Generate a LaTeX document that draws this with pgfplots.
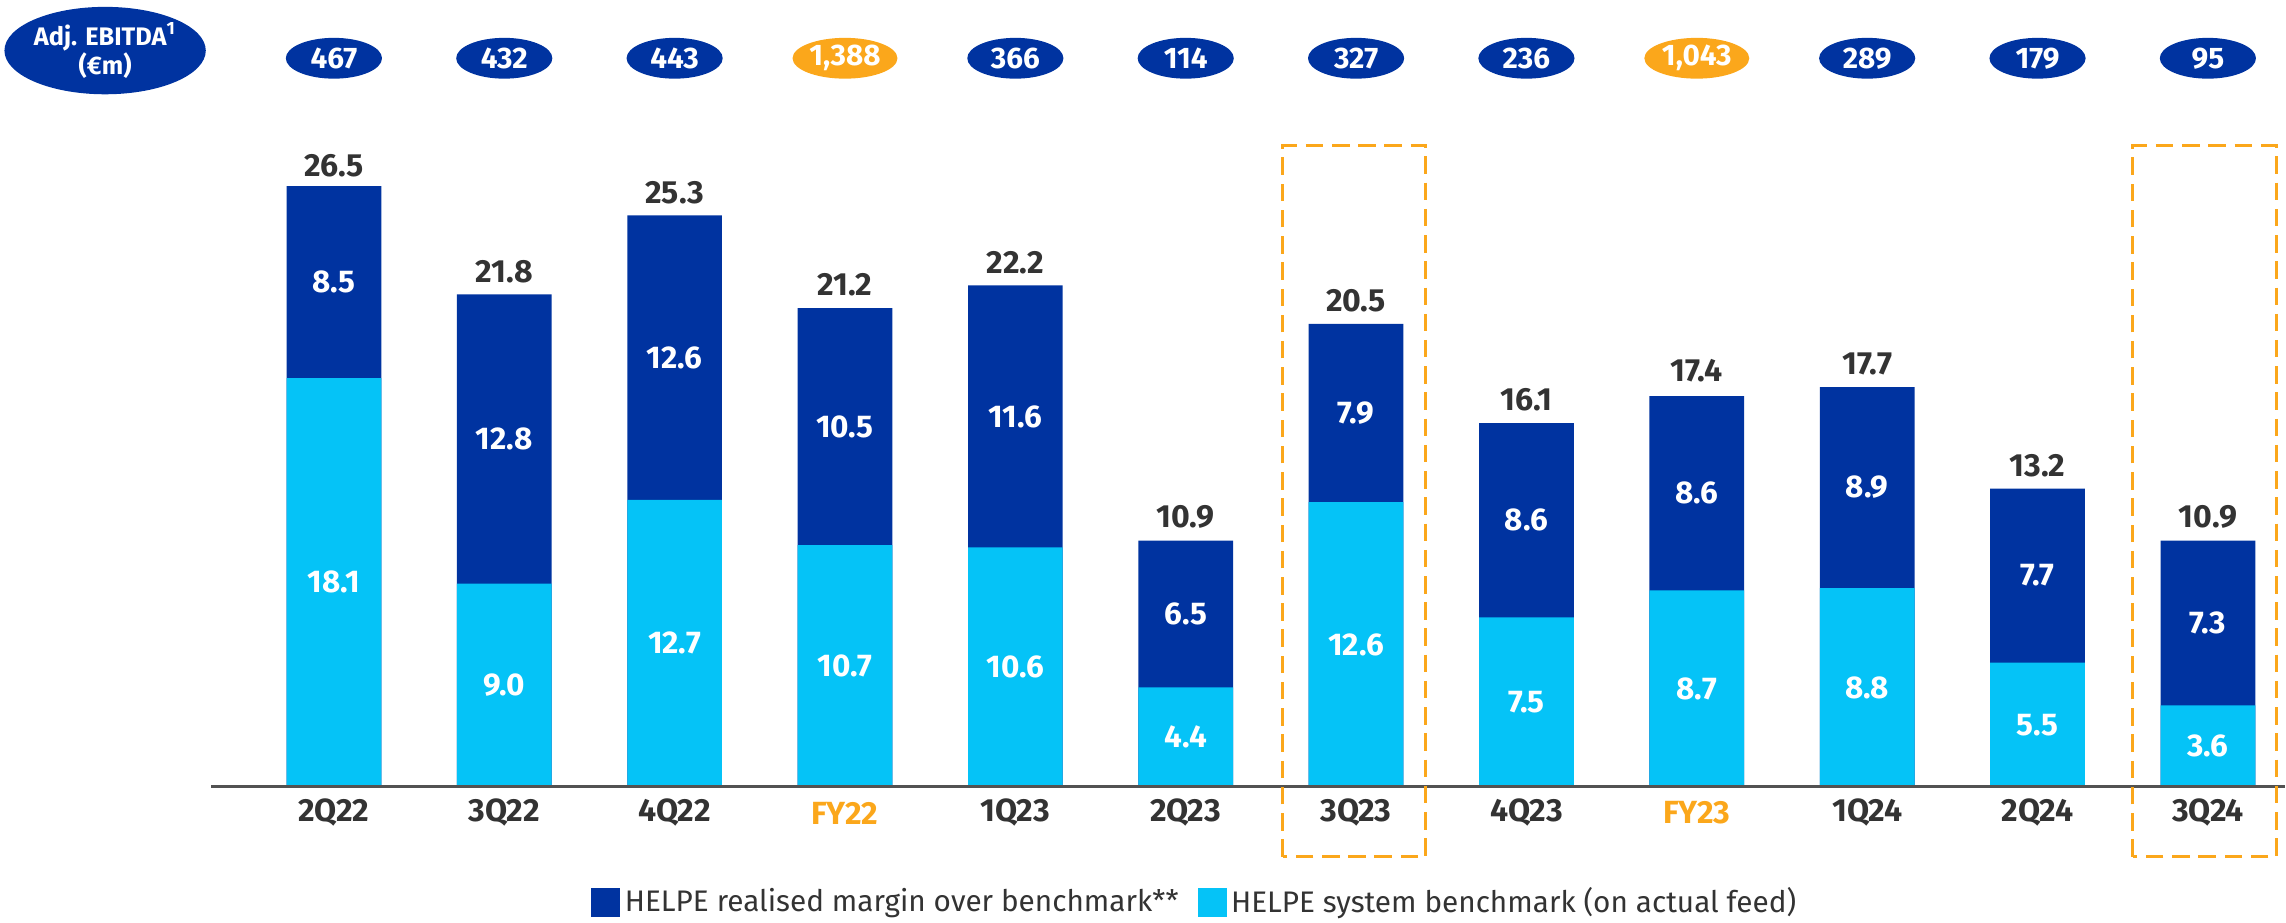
\documentclass[border=0pt]{standalone}
\usepackage{fontspec}
\setmainfont{Fira Sans}
\usepackage{pgfplots}
\pgfplotsset{compat=1.18}
\usepackage{pgfplotstable}
\usetikzlibrary{shapes.geometric}

\definecolor{dblue}{HTML}{0033A0}
\definecolor{lblue}{HTML}{05C3F7}
\definecolor{orng}{HTML}{FBA71B}
\definecolor{txt}{HTML}{333333}

% benchmark, margin over benchmark, reported total ($/bbl)
\pgfplotstableread{
x bench margin total
0 18.1 8.5 26.5
1 9.0 12.8 21.8
2 12.7 12.6 25.3
3 10.7 10.5 21.2
4 10.6 11.6 22.2
5 4.4 6.5 10.9
6 12.6 7.9 20.5
7 7.5 8.6 16.1
8 8.7 8.6 17.4
9 8.8 8.9 17.7
10 5.5 7.7 13.2
11 3.6 7.3 10.9
}\spreads

% Adj. EBITDA (EUR m), quarters
\pgfplotstableread{
x ebitda lab
0 467 2Q22
1 432 3Q22
2 443 4Q22
4 366 1Q23
5 114 2Q23
6 327 3Q23
7 236 4Q23
9 289 1Q24
10 179 2Q24
11 95 3Q24
}\quarters

% full years
\pgfplotstableread{
x ebitda lab
3 1,388 FY22
8 1,043 FY23
}\years

\begin{document}
\begin{tikzpicture}
\begin{axis}[
    width=784pt, height=316.5pt,
    scale only axis,
    hide axis,
    clip=false,
    xmin=-1.96, xmax=11.45,
    ymin=-6.0, ymax=34.84,
    legend columns=2,
    legend style={at={(axis cs:5.06,-6.0)}, anchor=south, draw=none, fill=none,
        inner sep=0pt, nodes={inner sep=1.5pt},
        font=\fontsize{10.2}{12}\selectfont, text=txt,
        /tikz/every even column/.append style={column sep=5pt}},
    legend image code/.code={\fill[#1] (0pt,-5pt) rectangle (10pt,5pt);},
]
\path (rel axis cs:0,0) rectangle (rel axis cs:1,1);

% bars: dark from 0 to total, light benchmark drawn over it
\addplot[ybar, bar width=0.556, bar shift=0pt, fill=dblue, draw=none]
    table[x=x, y expr=\thisrow{bench}+\thisrow{margin}] {\spreads};
\addlegendentry{HELPE realised margin over benchmark**}
\addplot[ybar, bar width=0.556, bar shift=0pt, fill=lblue, draw=none]
    table[x=x, y=bench] {\spreads};
\addlegendentry{HELPE system benchmark (on actual feed)}

% axis line
\draw[color=txt!85, line width=1pt] (axis cs:-0.72,0) -- (axis cs:11.45,0);

% segment labels
\addplot[forget plot, draw=none, mark=none, nodes near coords, point meta=explicit symbolic,
    nodes near coords style={anchor=center, text=white, font=\fontsize{10.8}{12}\selectfont\bfseries}]
    table[x=x, y expr=\thisrow{bench}/2, meta=bench] {\spreads};
\addplot[forget plot, draw=none, mark=none, nodes near coords, point meta=explicit symbolic,
    nodes near coords style={anchor=center, text=white, font=\fontsize{10.8}{12}\selectfont\bfseries}]
    table[x=x, y expr=\thisrow{bench}+\thisrow{margin}/2, meta=margin] {\spreads};
% totals
\addplot[forget plot, draw=none, mark=none, nodes near coords, point meta=explicit symbolic,
    nodes near coords style={anchor=south, yshift=0.5pt, text=txt, font=\fontsize{11}{12}\selectfont\bfseries}]
    table[x=x, y=total, meta=total] {\spreads};

% category labels
\addplot[forget plot, draw=none, mark=none, nodes near coords, point meta=explicit symbolic,
    nodes near coords style={anchor=center, text=txt, font=\fontsize{11}{12}\selectfont\bfseries}]
    table[x=x, y expr=-1.16, meta=lab] {\quarters};
\addplot[forget plot, draw=none, mark=none, nodes near coords, point meta=explicit symbolic,
    nodes near coords style={anchor=center, text=orng, font=\fontsize{11}{12}\selectfont\bfseries}]
    table[x=x, y expr=-1.16, meta=lab] {\years};

% EBITDA badges
\addplot[forget plot, draw=none, mark=none, nodes near coords, point meta=explicit symbolic,
    nodes near coords style={anchor=center, ellipse, fill=dblue, text=white, inner sep=0pt,
        minimum width=33pt, minimum height=14pt, font=\fontsize{10.2}{11}\selectfont\bfseries}]
    table[x=x, y expr=32.26, meta=ebitda] {\quarters};
\addplot[forget plot, draw=none, mark=none, nodes near coords, point meta=explicit symbolic,
    nodes near coords style={anchor=center, ellipse, fill=orng, text=white, inner sep=0pt,
        minimum width=36pt, minimum height=14pt, font=\fontsize{10.2}{11}\selectfont\bfseries}]
    table[x=x, y expr=32.26, meta=ebitda] {\years};

\node[ellipse, fill=dblue, text=white, inner sep=0pt, minimum width=67.5pt, minimum height=30pt,
    align=center, font=\fontsize{8.7}{10}\selectfont\bfseries]
    at (axis cs:-1.343,32.6) {Adj. EBITDA\textsuperscript{1}\\(€m)};

% highlight boxes
\draw[orng, line width=1pt, dash pattern=on 6pt off 3pt] (axis cs:5.57,-3.1) rectangle (axis cs:6.41,28.4);
\draw[orng, line width=1pt, dash pattern=on 6pt off 3pt] (axis cs:10.56,-3.1) rectangle (axis cs:11.40,28.4);
\end{axis}
\end{tikzpicture}
\end{document}
